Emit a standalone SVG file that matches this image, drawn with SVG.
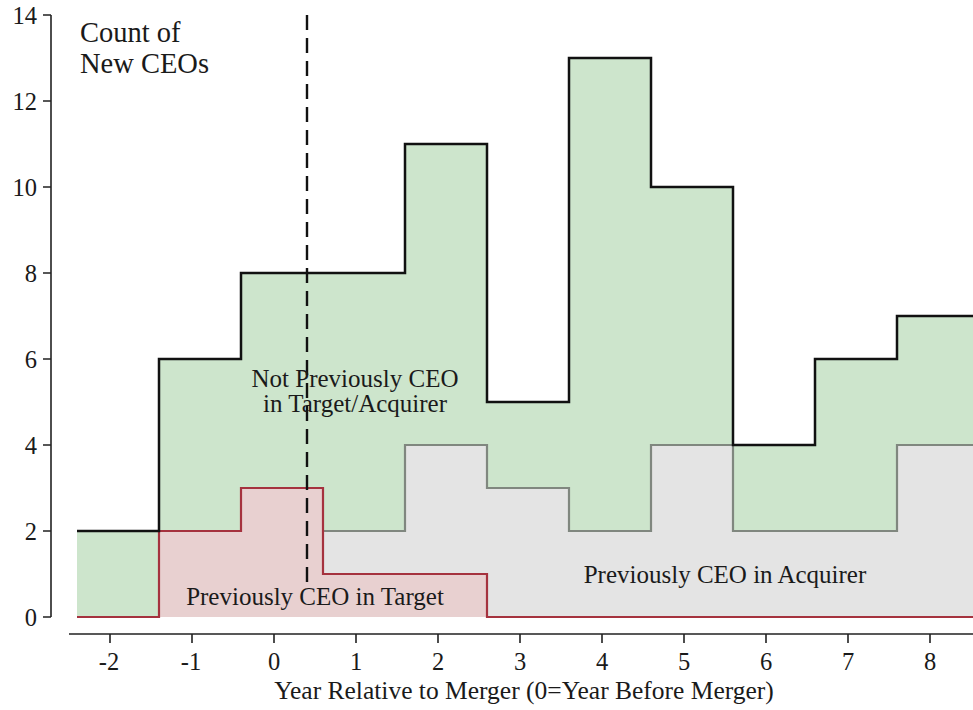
<svg xmlns="http://www.w3.org/2000/svg" width="973" height="710" viewBox="0 0 973 710">
<style>
text{font-family:'Liberation Serif','Times New Roman','DejaVu Serif',serif;fill:#1a1a1a}
.tk{font-size:24.5px}
.lab{font-size:25px}
.big{font-size:28.5px}
.ax{stroke:#222;stroke-width:1.6;fill:none}
</style>
<defs><clipPath id="c"><rect x="0" y="0" width="973" height="710"/></clipPath></defs>
<rect width="973" height="710" fill="#fff"/>
<g id="areas" clip-path="url(#c)">
<path id="green" fill="#cde5cc" d="M77,617 V531 H159 V359 H241 V273 H405 V144 H487 V402 H569 V58 H651 V187 H733 V445 H815 V359 H897 V316 H980 V617 Z"/>
<path id="gray" fill="#e4e4e4" d="M323,617 V531 H405 V445 H487 V488 H569 V531 H651 V445 H733 V531 H897 V445 H980 V617 Z"/>
<path id="pink" fill="#e8d0d0" d="M159,617 V531 H241 V488 H323 V574 H487 V617 Z"/>
</g>
<g id="connectors" clip-path="url(#c)" fill="none">
<path stroke="#80877f" stroke-width="2.2" d="M323,531 H405 V445 H487 V488 H569 V531 H651 V445 H733 V531 H897 V445 H980"/>
<path stroke="#a5323e" stroke-width="2.2" d="M77,617 H159 V531 H241 V488 H323 V574 H487 V617 H980"/>
<path stroke="#111" stroke-width="2.5" d="M77,531 H159 V359 H241 V273 H405 V144 H487 V402 H569 V58 H651 V187 H733 V445 H815 V359 H897 V316 H980"/>
<line x1="307" y1="15" x2="307" y2="582" stroke="#111" stroke-width="2.4" stroke-dasharray="15 8"/>
</g>
<g id="yaxis">
<path class="ax" d="M51,15 V617 M43,15 H51 M43,101 H51 M43,187 H51 M43,273 H51 M43,359 H51 M43,445 H51 M43,531 H51 M43,617 H51"/>
<g class="tk" text-anchor="end">
<text x="37" y="24">14</text>
<text x="37" y="110">12</text>
<text x="37" y="196">10</text>
<text x="37" y="282">8</text>
<text x="37" y="368">6</text>
<text x="37" y="454">4</text>
<text x="37" y="540">2</text>
<text x="37" y="626">0</text>
</g>
</g>
<g id="xaxis">
<path class="ax" d="M69,634 H973 M110,634 V643 M192,634 V643 M274,634 V643 M356,634 V643 M438,634 V643 M520,634 V643 M602,634 V643 M684,634 V643 M766,634 V643 M848,634 V643 M930,634 V643"/>
<g class="tk" text-anchor="middle">
<text x="109" y="670">-2</text>
<text x="191" y="670">-1</text>
<text x="274" y="670">0</text>
<text x="356" y="670">1</text>
<text x="438" y="670">2</text>
<text x="520" y="670">3</text>
<text x="602" y="670">4</text>
<text x="684" y="670">5</text>
<text x="766" y="670">6</text>
<text x="848" y="670">7</text>
<text x="930" y="670">8</text>
</g>
<text class="lab" x="524" y="699" text-anchor="middle" style="font-size:25.5px">Year Relative to Merger (0=Year Before Merger)</text>
</g>
<g id="ylabel">
<text class="big" x="80" y="42">Count of</text>
<text class="big" x="80" y="73">New CEOs</text>
</g>
<g id="label-not-previously">
<text class="lab" x="355" y="387" text-anchor="middle">Not Previously CEO</text>
<text class="lab" x="355" y="412" text-anchor="middle">in Target/Acquirer</text>
</g>
<g id="label-target">
<text class="lab" x="315" y="605" text-anchor="middle">Previously CEO in Target</text>
</g>
<g id="label-acquirer">
<text class="lab" x="725" y="583" text-anchor="middle">Previously CEO in Acquirer</text>
</g>
</svg>
